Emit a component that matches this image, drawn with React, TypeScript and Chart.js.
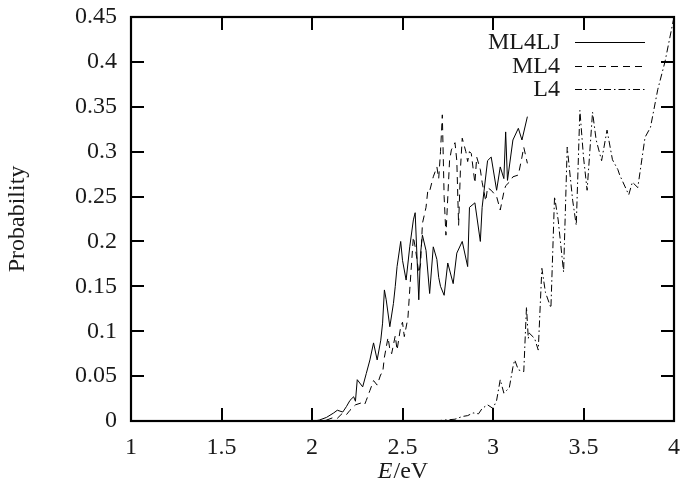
import React, { useEffect, useRef } from 'react';
import { Chart, registerables } from 'chart.js';

Chart.register(...registerables);

const seriesLabels = ['ML4LJ', 'ML4', 'L4'];

const ml4ljE = [2.01, 2.04, 2.08, 2.12, 2.14, 2.17, 2.19, 2.21, 2.23, 2.24, 2.25, 2.28, 2.30, 2.32, 2.34, 2.36, 2.38, 2.39, 2.40, 2.41, 2.43, 2.45, 2.46, 2.47, 2.49, 2.50, 2.52, 2.54, 2.56, 2.57, 2.59, 2.60, 2.61, 2.63, 2.65, 2.67, 2.69, 2.70, 2.71, 2.73, 2.75, 2.78, 2.80, 2.83, 2.86, 2.87, 2.90, 2.93, 2.94, 2.97, 2.99, 3.02, 3.04, 3.06, 3.07, 3.08, 3.11, 3.14, 3.16, 3.19];
const ml4ljP = [0.000, 0.001, 0.004, 0.009, 0.012, 0.010, 0.016, 0.023, 0.027, 0.022, 0.046, 0.038, 0.053, 0.068, 0.087, 0.068, 0.090, 0.109, 0.146, 0.135, 0.105, 0.131, 0.150, 0.172, 0.200, 0.179, 0.157, 0.194, 0.224, 0.232, 0.135, 0.187, 0.207, 0.190, 0.142, 0.194, 0.180, 0.160, 0.150, 0.140, 0.176, 0.153, 0.187, 0.200, 0.172, 0.238, 0.243, 0.200, 0.238, 0.290, 0.294, 0.257, 0.283, 0.270, 0.322, 0.268, 0.313, 0.326, 0.313, 0.339];

const ml4E = [2.01, 2.04, 2.08, 2.12, 2.14, 2.17, 2.19, 2.21, 2.24, 2.27, 2.29, 2.30, 2.32, 2.34, 2.36, 2.38, 2.39, 2.40, 2.42, 2.43, 2.44, 2.46, 2.47, 2.49, 2.50, 2.51, 2.53, 2.54, 2.56, 2.57, 2.59, 2.60, 2.61, 2.63, 2.64, 2.65, 2.67, 2.69, 2.70, 2.71, 2.72, 2.73, 2.74, 2.76, 2.77, 2.79, 2.80, 2.81, 2.82, 2.83, 2.85, 2.86, 2.87, 2.88, 2.90, 2.91, 2.93, 2.94, 2.96, 2.97, 2.99, 3.02, 3.04, 3.06, 3.07, 3.09, 3.11, 3.14, 3.16, 3.17, 3.19];
const ml4P = [0.000, 0.000, 0.001, 0.004, 0.003, 0.009, 0.007, 0.012, 0.018, 0.020, 0.018, 0.023, 0.034, 0.045, 0.040, 0.052, 0.053, 0.071, 0.093, 0.080, 0.075, 0.095, 0.079, 0.105, 0.110, 0.094, 0.115, 0.146, 0.205, 0.194, 0.165, 0.175, 0.220, 0.238, 0.257, 0.256, 0.272, 0.283, 0.270, 0.300, 0.341, 0.250, 0.207, 0.290, 0.302, 0.310, 0.290, 0.218, 0.280, 0.315, 0.300, 0.289, 0.300, 0.298, 0.265, 0.294, 0.280, 0.266, 0.245, 0.260, 0.257, 0.250, 0.235, 0.255, 0.262, 0.266, 0.272, 0.274, 0.294, 0.305, 0.287];

const l4E = [2.68, 2.73, 2.79, 2.83, 2.86, 2.89, 2.92, 2.94, 2.97, 3.00, 3.02, 3.04, 3.06, 3.08, 3.09, 3.11, 3.12, 3.14, 3.17, 3.185, 3.195, 3.20, 3.23, 3.25, 3.27, 3.29, 3.32, 3.34, 3.36, 3.39, 3.41, 3.44, 3.46, 3.48, 3.50, 3.52, 3.55, 3.57, 3.60, 3.63, 3.66, 3.69, 3.70, 3.75, 3.77, 3.80, 3.84, 3.87, 3.91, 3.95, 4.00];
const l4P = [0.000, 0.001, 0.002, 0.005, 0.006, 0.009, 0.008, 0.014, 0.018, 0.014, 0.023, 0.046, 0.031, 0.035, 0.037, 0.060, 0.068, 0.057, 0.055, 0.127, 0.092, 0.098, 0.092, 0.079, 0.170, 0.143, 0.126, 0.250, 0.224, 0.166, 0.305, 0.246, 0.218, 0.346, 0.294, 0.257, 0.344, 0.313, 0.290, 0.324, 0.291, 0.280, 0.274, 0.252, 0.266, 0.260, 0.316, 0.327, 0.369, 0.400, 0.450];

const xTicks = [1, 1.5, 2, 2.5, 3, 3.5, 4];
const yTicks = [0, 0.05, 0.1, 0.15, 0.2, 0.25, 0.3, 0.35, 0.4, 0.45];

const FONT_FAMILY = '"Liberation Serif", "Times New Roman", serif';
const TEXT_COLOR = '#1a1a1a';
const LINE_COLOR = '#000000';

const toPoints = (xs: number[], ys: number[]) => xs.map((x, i) => ({ x, y: ys[i] }));

const zeroPadding = (s: any) => {
  s.paddingLeft = 0;
  s.paddingRight = 0;
  s.paddingTop = 0;
  s.paddingBottom = 0;
};

const frameTicksPlugin = {
  id: 'frameTicks',
  afterDraw(chart: any) {
    const { ctx, chartArea } = chart;
    const { left, right, top, bottom } = chartArea;
    const xs = chart.scales.x;
    const ys = chart.scales.y;
    const tl = 13;
    ctx.save();
    ctx.strokeStyle = '#000';
    ctx.lineWidth = 2;
    ctx.beginPath();
    yTicks.forEach((v) => {
      const y = Math.round(ys.getPixelForValue(v));
      ctx.moveTo(left, y);
      ctx.lineTo(left + tl, y);
      ctx.moveTo(right, y);
      ctx.lineTo(right - tl, y);
    });
    xTicks.forEach((v) => {
      const x = Math.round(xs.getPixelForValue(v));
      ctx.moveTo(x, bottom);
      ctx.lineTo(x, bottom - tl);
      ctx.moveTo(x, top);
      ctx.lineTo(x, top + tl);
    });
    ctx.stroke();
    ctx.lineWidth = 2.2;
    ctx.strokeRect(left, top, right - left, bottom - top);

    // x-axis title: E (italic) / eV
    const cx = (left + right) / 2;
    const baseY = 478;
    ctx.fillStyle = TEXT_COLOR;
    ctx.textBaseline = 'alphabetic';
    ctx.textAlign = 'left';
    const italicFont = `italic 24px ${FONT_FAMILY}`;
    const normalFont = `24px ${FONT_FAMILY}`;
    ctx.font = italicFont;
    const wE = ctx.measureText('E').width;
    ctx.font = normalFont;
    const wRest = ctx.measureText('/eV').width;
    const startX = cx - (wE + wRest) / 2;
    ctx.font = italicFont;
    ctx.fillText('E', startX, baseY);
    ctx.font = normalFont;
    ctx.fillText('/eV', startX + wE + 1, baseY);

    // legend
    const legendTextRight = 560;
    const lineStart = 575;
    const lineEnd = 645;
    const rows = [42, 66, 89];
    chart.data.datasets.forEach((ds: any, i: number) => {
      const y = rows[i];
      ctx.font = normalFont;
      ctx.textAlign = 'right';
      ctx.textBaseline = 'middle';
      ctx.fillStyle = TEXT_COLOR;
      ctx.fillText(ds.label, legendTextRight, y + 1);
      ctx.beginPath();
      ctx.strokeStyle = LINE_COLOR;
      ctx.lineWidth = 1;
      ctx.setLineDash(ds.borderDash || []);
      ctx.moveTo(lineStart, y + 0.5);
      ctx.lineTo(lineEnd, y + 0.5);
      ctx.stroke();
      ctx.setLineDash([]);
    });
    ctx.restore();
  },
};

export default function App() {
  const canvasRef = useRef<HTMLCanvasElement | null>(null);

  useEffect(() => {
    const canvas = canvasRef.current;
    if (!canvas) return;
    const font = { family: FONT_FAMILY, size: 24 };
    const chart = new Chart(canvas, {
      type: 'line',
      data: {
        datasets: [
          {
            label: seriesLabels[0],
            data: toPoints(ml4ljE, ml4ljP),
            borderColor: LINE_COLOR,
            borderWidth: 1,
            borderDash: [],
            pointRadius: 0,
            tension: 0,
            fill: false,
          },
          {
            label: seriesLabels[1],
            data: toPoints(ml4E, ml4P),
            borderColor: LINE_COLOR,
            borderWidth: 1,
            borderDash: [7, 5],
            pointRadius: 0,
            tension: 0,
            fill: false,
          },
          {
            label: seriesLabels[2],
            data: toPoints(l4E, l4P),
            borderColor: LINE_COLOR,
            borderWidth: 1,
            borderDash: [7, 3, 1.5, 3],
            pointRadius: 0,
            tension: 0,
            fill: false,
          },
        ],
      },
      options: {
        animation: false,
        responsive: true,
        maintainAspectRatio: false,
        devicePixelRatio: 1,
        layout: { padding: { top: 17, right: 10, left: 0, bottom: 0 } },
        plugins: {
          legend: { display: false },
          tooltip: { enabled: false },
        },
        scales: {
          x: {
            type: 'linear',
            min: 1,
            max: 4,
            afterBuildTicks: (s: any) => {
              s.ticks = xTicks.map((v) => ({ value: v }));
            },
            afterFit: (s: any) => {
              s.height = 70;
              zeroPadding(s);
            },
            grid: { display: false, drawTicks: false },
            border: { display: false },
            ticks: {
              font,
              color: TEXT_COLOR,
              padding: 12,
              maxRotation: 0,
              autoSkip: false,
              callback: (v: any) => String(Number(Number(v).toFixed(2))),
            },
          },
          y: {
            type: 'linear',
            min: 0,
            max: 0.45,
            afterBuildTicks: (s: any) => {
              s.ticks = yTicks.map((v) => ({ value: v }));
            },
            afterFit: (s: any) => {
              s.width = 131;
              zeroPadding(s);
            },
            grid: { display: false, drawTicks: false },
            border: { display: false },
            ticks: {
              font,
              color: TEXT_COLOR,
              padding: 14,
              autoSkip: false,
              callback: (v: any) => String(Number(Number(v).toFixed(2))),
            },
            title: {
              display: true,
              text: 'Probability',
              font,
              color: TEXT_COLOR,
              padding: { top: 3, bottom: 0 },
            },
          },
        },
      },
      plugins: [frameTicksPlugin],
    });
    return () => chart.destroy();
  }, []);

  return (
    <div style={{ position: 'absolute', left: 0, top: 0, width: 684, height: 491, background: '#fff' }}>
      <canvas ref={canvasRef} />
    </div>
  );
}
